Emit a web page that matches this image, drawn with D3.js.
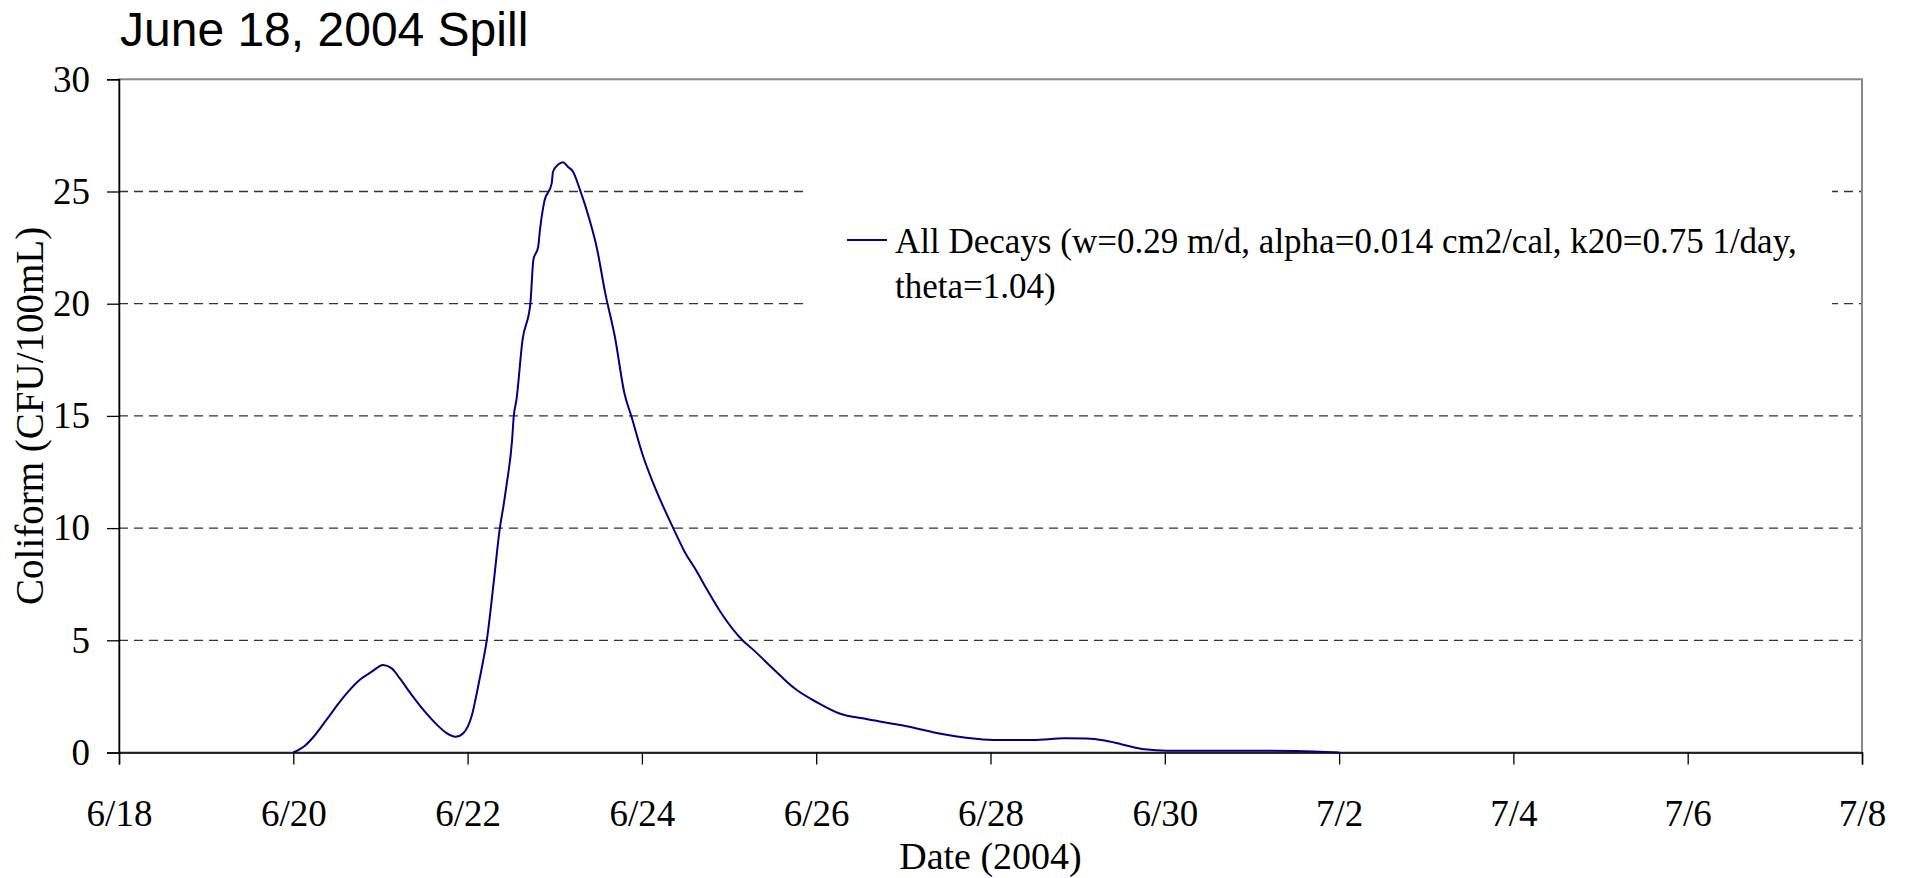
<!DOCTYPE html>
<html>
<head>
<meta charset="utf-8">
<script src="https://cdn.jsdelivr.net/npm/d3@7"></script>
<style>
  body { margin: 0; background: #fff; }
  text { font-family: "Liberation Serif", "Times New Roman", serif; fill: #000; }
</style>
</head>
<body>
<div id="chart"></div>
<script>
// days after 6/18/2004 00:00, and modelled coliform (CFU/100mL)
var dayOffsets = [2.00, 2.13, 2.25, 2.38, 2.52, 2.63, 2.77, 2.90, 3.03, 3.13, 3.22, 3.36, 3.51, 3.65, 3.76, 3.86, 3.95,
  4.05, 4.12, 4.18, 4.22, 4.30, 4.37, 4.41, 4.45, 4.51, 4.53, 4.56, 4.63, 4.72, 4.755, 4.81, 4.83, 4.88, 4.965, 4.98,
  5.04, 5.095, 5.15, 5.21, 5.29, 5.40, 5.48, 5.58, 5.69, 5.80, 5.88, 6.016, 6.13, 6.36, 6.49, 6.62, 6.75, 6.90,
  7.16, 7.26, 7.52, 7.75, 8.03, 8.26, 8.59, 9.00, 9.46, 9.72, 10.03, 10.49, 10.85, 11.10, 11.31, 11.51, 11.77,
  12.03, 12.5, 13.0, 13.5, 14.0];
var coliform = [0, 0.29, 0.78, 1.45, 2.19, 2.71, 3.26, 3.60, 3.90, 3.75, 3.31, 2.56, 1.82, 1.23, 0.86, 0.70, 0.86,
  1.67, 2.93, 4.12, 5.0, 7.6, 10.0, 10.95, 12.0, 13.9, 15.0, 15.7, 18.38, 20.0, 21.95, 22.54, 23.28, 24.55, 25.36, 25.88,
  26.2, 26.3, 26.1, 25.88, 25.07, 23.73, 22.54, 20.46, 18.53, 16.0, 14.97, 13.18, 12.0, 9.99, 8.95, 8.13, 7.24, 6.27,
  4.98, 4.64, 3.68, 2.86, 2.19, 1.75, 1.48, 1.20, 0.81, 0.66, 0.56, 0.56, 0.63, 0.62, 0.53, 0.36, 0.14,
  0.08, 0.08, 0.08, 0.07, 0.0];
var yTicks = [0, 5, 10, 15, 20, 25, 30];
var gridValues = [5, 10, 15, 20, 25];
var xTickDays = [0, 2, 4, 6, 8, 10, 12, 14, 16, 18, 20];
var startDate = new Date(2004, 5, 18);
var endDate = new Date(2004, 6, 8);
var titleText = "June 18, 2004 Spill";
var legendLines = ["All Decays (w=0.29 m/d, alpha=0.014 cm2/cal, k20=0.75 1/day,", "theta=1.04)"];

var width = 1906;
var height = 878;
var margin = {left: 119, top: 79.3, right: 44, bottom: 125.5};
var w = width - margin.left - margin.right;
var h = height - margin.top - margin.bottom;

function dayToDate(d) {
  return new Date(startDate.getTime() + d * 86400000);
}

var svg = d3.select("#chart")
  .append("svg")
  .attr("width", width)
  .attr("height", height);

var x = d3.scaleTime()
  .domain([startDate, endDate])
  .range([0, w]);

var y = d3.scaleLinear()
  .domain([0, 30])
  .range([h, 0]);

var data = dayOffsets.map(function(d, i) {
  return {date: dayToDate(d), value: coliform[i]};
});

svg.append("text")
  .attr("x", 120)
  .attr("y", 46)
  .style("font-family", "'Liberation Sans', Arial, sans-serif")
  .style("font-size", "48px")
  .text(titleText);

var g = svg.append("g")
  .attr("transform", "translate(" + margin.left + "," + margin.top + ")");

// dashed gridlines
g.selectAll(".grid")
  .data(gridValues)
  .enter()
  .append("line")
  .attr("x1", 0)
  .attr("x2", w)
  .attr("y1", function(d) { return y(d); })
  .attr("y2", function(d) { return y(d); })
  .attr("stroke", "#333")
  .attr("stroke-width", 1.3)
  .attr("stroke-dasharray", "9,6");

// plot border (grey on top/right)
g.append("rect")
  .attr("x", 0)
  .attr("y", 0)
  .attr("width", w)
  .attr("height", h)
  .attr("fill", "none")
  .attr("stroke", "#888")
  .attr("stroke-width", 2);

// legend box hides the gridlines behind it
g.append("rect")
  .attr("x", 806 - margin.left)
  .attr("y", 168 - margin.top)
  .attr("width", 1832 - 806)
  .attr("height", 160)
  .attr("fill", "#fff");

var yAxis = g.append("g")
  .call(d3.axisLeft(y).tickValues(yTicks).tickSize(12).tickPadding(17));

var xAxis = g.append("g")
  .attr("transform", "translate(0," + h + ")")
  .call(d3.axisBottom(x)
    .tickValues(xTickDays.map(dayToDate))
    .tickSize(12)
    .tickPadding(35)
    .tickFormat(d3.timeFormat("%-m/%-d")));

[yAxis, xAxis].forEach(function(a) {
  a.select(".domain").attr("stroke", "#000").attr("stroke-width", 1.5);
  a.selectAll(".tick line").attr("stroke", "#000").attr("stroke-width", 1.3);
  a.selectAll(".tick text")
    .style("font-family", "'Liberation Serif', 'Times New Roman', serif")
    .style("font-size", "37px")
    .attr("fill", "#000");
});

var line = d3.line()
  .x(function(d) { return x(d.date); })
  .y(function(d) { return y(d.value); })
  .curve(d3.curveMonotoneX);

g.append("path")
  .datum(data)
  .attr("d", line)
  .attr("fill", "none")
  .attr("stroke", "#000080")
  .attr("stroke-width", 2);

// legend
svg.append("line")
  .attr("x1", 847)
  .attr("x2", 887)
  .attr("y1", 240)
  .attr("y2", 240)
  .attr("stroke", "#000080")
  .attr("stroke-width", 2);

svg.selectAll(".legend-text")
  .data(legendLines)
  .enter()
  .append("text")
  .attr("x", 895)
  .attr("y", function(d, i) { return 253 + i * 45; })
  .style("font-size", "35px")
  .text(function(d) { return d; });

// axis titles
svg.append("text")
  .attr("x", margin.left + w / 2)
  .attr("y", 869)
  .attr("text-anchor", "middle")
  .style("font-size", "38px")
  .text("Date (2004)");

svg.append("text")
  .attr("transform", "translate(43," + (margin.top + h / 2) + ") rotate(-90)")
  .attr("text-anchor", "middle")
  .style("font-size", "39px")
  .text("Coliform (CFU/100mL)");
</script>
</body>
</html>
